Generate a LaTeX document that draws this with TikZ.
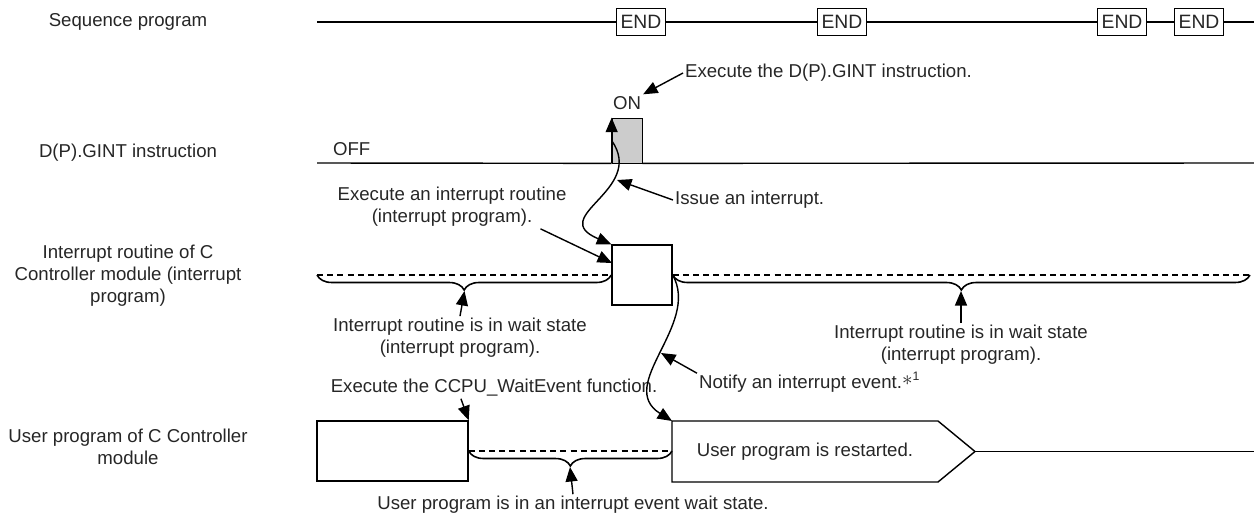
\documentclass[tikz,border=0pt]{standalone}
\usepackage{fontspec}
\setmainfont{Liberation Sans}
\usetikzlibrary{arrows.meta,calc,decorations.pathreplacing}
\tikzset{
  lbl/.style={align=center, inner sep=1pt, text=black!85, font=\fontsize{10.6}{12.6}\selectfont},
  endbox/.style={draw, fill=white, minimum width=0.98cm, minimum height=0.54cm, inner sep=0pt, text=black!85, font=\fontsize{11}{13}\selectfont},
  blk/.style={draw, fill=white, inner sep=0pt},
  sig/.style={line width=0.8pt},
  waitline/.style={line width=1.1pt, dash pattern=on 3.4pt off 2.4pt},
  brc/.style={decorate, decoration={brace, mirror, amplitude=0.3cm}, line width=0.9pt},
  arr/.style={-{Triangle[length=2.9mm, width=2.4mm]}, line width=0.8pt}
}

\begin{document}
\begin{tikzpicture}[x=0.02cm, y=-0.02cm]
\useasboundingbox (0,0) rectangle (1254,525);

\node[lbl] (lseq) at (128,22) {Sequence program};
\node[lbl] (lgint) at (128,153) {D(P).GINT instruction};
\node[lbl] (lirq) at (128,276) {Interrupt routine of C\\Controller module (interrupt\\program)};
\node[lbl] (lusr) at (128,447) {User program of C Controller\\module};

\coordinate (seqL) at (317,22);
\coordinate (seqR) at (1254,22);
\node[endbox] (end1) at (641,22) {END};
\node[endbox] (end2) at (842,22) {END};
\node[endbox] (end3) at (1122,22) {END};
\node[endbox] (end4) at (1199,22) {END};
\draw[sig] (seqL) -- (end1) -- (end2) -- (end3) -- (end4) -- (seqR);

\coordinate (offL) at (317,163);
\coordinate (offR) at (1254,163);
\node[blk, fill=gray!40, minimum width=0.6cm, minimum height=0.9cm] (pls) at (627,140.5) {};
\draw[sig] (offL) -- (pls.south west);
\draw[sig] (pls.south east) -- (offR);
\draw[arr] (pls.south west) -- (pls.north west);
\node[lbl, anchor=south west] (off) at (331,158) {OFF};
\node[lbl] (on) at (627,103) {ON};
\node[lbl, anchor=west] (tgint) at (683,73) {Execute the D(P).GINT instruction.};
\draw[arr] (tgint.west) -- (on.north east);

\node[blk, sig, minimum width=1.2cm, minimum height=1.2cm] (irq) at (642,275) {};
\coordinate (wL) at (317,275);
\coordinate (wR) at (1250,275);
\draw[waitline] (wL) -- (irq.west);
\draw[waitline] (irq.east) -- (wR);
\draw[brc] (wL) -- (irq.west);
\draw[brc] (irq.east) -- (wR);
\coordinate (tipL) at (464.5,291);
\coordinate (tipR) at (961,291);
\node[lbl] (twaitl) at (460,338) {Interrupt routine is in wait state\\(interrupt program).};
\node[lbl] (twaitr) at (961,345) {Interrupt routine is in wait state\\(interrupt program).};
\draw[arr] (twaitl.north) -- (tipL);
\draw[arr] (twaitr.north) -- (tipR);

\draw[arr] (pls.west) .. controls +(35,50) and +(-66,-28) .. (irq.north west);
\coordinate (c1p) at (617,180);
\node[lbl, anchor=west] (tissue) at (673,200) {Issue an interrupt.};
\draw[arr] (tissue.west) -- (c1p);

\node[lbl] (texec) at (452,207) {Execute an interrupt routine\\(interrupt program).};
\coordinate (irqa) at (612,263);
\draw[arr] ($(texec.south west)!0.88!(texec.south east)$) -- (irqa);

\node[blk, sig, minimum width=3.02cm, minimum height=1.2cm] (usr) at (392.5,451) {};
\node[lbl] (tccpu) at (494,388) {Execute the CCPU\_WaitEvent function.};
\draw[arr] ($(tccpu.south west)!0.4!(tccpu.south east)$) -- (usr.north east);

\coordinate (rstnw) at (672,421);
\coordinate (rstw) at (672,451);
\coordinate (rsttip) at (975,451.5);
\coordinate (usrR) at (1254,451.5);
\draw[sig] (rstnw) -- (938,421) -- (rsttip) -- (938,482) -- (672,482) -- cycle;
\node[lbl] (trst) at (805,452) {User program is restarted.};
\draw[sig] (rsttip) -- (usrR);

\draw[waitline] (usr.east) -- (rstw);
\draw[brc] (usr.east) -- (rstw);
\coordinate (tipU) at (570,467);
\node[lbl] (twaitu) at (573,505) {User program is in an interrupt event wait state.};
\draw[arr] (twaitu.north) -- (tipU);

\draw[arr] (irq.east) .. controls +(28,50) and +(-57,-36) .. (rstnw);
\coordinate (c2p) at (661,353);
\node[lbl, anchor=west] (tnotify) at (697,384) {Notify an interrupt event.\smash{\raisebox{.2em}{\large$\ast$}\raisebox{.45em}{\scriptsize 1}}};
\draw[arr] (tnotify.north west) -- (c2p);
\end{tikzpicture}
\end{document}
